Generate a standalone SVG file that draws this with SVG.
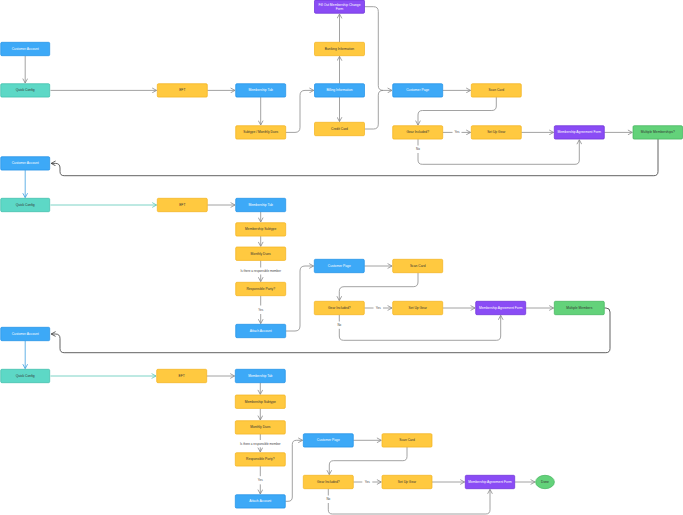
<svg xmlns="http://www.w3.org/2000/svg" width="683" height="515" viewBox="0 0 683 515">
<style>
text{font-family:"Liberation Sans",Arial,sans-serif;font-size:3.3px;text-anchor:middle;dominant-baseline:central}
.b rect{fill:#3DA9F7;stroke:#1E8FE6;stroke-width:0.7}
.y rect{fill:#FFC940;stroke:#F2B21C;stroke-width:0.7}
.t rect{fill:#5DD8C6;stroke:#3BBBA9;stroke-width:0.7}
.p rect{fill:#8A4CF5;stroke:#6A2ED6;stroke-width:0.7}
.g rect,.g ellipse{fill:#63D27A;stroke:#41B25A;stroke-width:0.7}
.b text,.p text{fill:#fff}
.y text,.t text,.g text{fill:#333}
.e path{fill:none;stroke:#8a8a8a;stroke-width:0.8}
.e path.bl{stroke:#3C9FE0}
.e path.tl{stroke:#5CC8B8}
.e path.dk{stroke:#3a3a3a}
.lbl{fill:#444;font-size:3px}
</style>
<defs>
<marker id="ag" viewBox="0 0 6 6" refX="5.6" refY="3" markerWidth="6" markerHeight="6" markerUnits="userSpaceOnUse" orient="auto"><path d="M1.2,0.6 L5.6,3 L1.2,5.4" fill="none" stroke="#8a8a8a" stroke-width="0.8"/></marker>
<marker id="ab" viewBox="0 0 6 6" refX="5.6" refY="3" markerWidth="6" markerHeight="6" markerUnits="userSpaceOnUse" orient="auto"><path d="M1.2,0.6 L5.6,3 L1.2,5.4" fill="none" stroke="#3C9FE0" stroke-width="0.8"/></marker>
<marker id="at" viewBox="0 0 6 6" refX="5.6" refY="3" markerWidth="6" markerHeight="6" markerUnits="userSpaceOnUse" orient="auto"><path d="M1.2,0.6 L5.6,3 L1.2,5.4" fill="none" stroke="#5CC8B8" stroke-width="0.8"/></marker>
<marker id="ad" viewBox="0 0 6 6" refX="5.6" refY="3" markerWidth="6" markerHeight="6" markerUnits="userSpaceOnUse" orient="auto"><path d="M1.2,0.6 L5.6,3 L1.2,5.4" fill="none" stroke="#3a3a3a" stroke-width="0.8"/></marker>
</defs>
<rect width="683" height="515" fill="#fff"/>

<g id="connectors" class="e">
<!-- section 1 -->
<path d="M25.2,56 V83" marker-end="url(#ag)"/>
<path d="M50.5,90.4 H156.6" marker-end="url(#ag)"/>
<path d="M207.3,90.4 H235" marker-end="url(#ag)"/>
<path d="M260.7,97.1 V125" marker-end="url(#ag)"/>
<path d="M285.7,132.4 H295 Q300,132.4 300,127.4 V95.4 Q300,90.4 305,90.4 H313.8" marker-end="url(#ag)"/>
<path d="M339.5,83.7 V56.3" marker-end="url(#ag)"/>
<path d="M339.5,42.3 V14" marker-end="url(#ag)"/>
<path d="M339.5,97.1 V121.6" marker-end="url(#ag)"/>
<path d="M364.5,6.7 H373.5 Q378.3,6.7 378.3,11.5 V85.6 Q378.3,90.4 383,90.4 H392" marker-end="url(#ag)"/>
<path d="M364.5,129 H373.5 Q378.3,129 378.3,124.2 V95.2 Q378.3,90.4 383,90.4"/>
<path d="M442.7,90.4 H470.6" marker-end="url(#ag)"/>
<path d="M496.3,97.1 V106 Q496.3,110.5 491.8,110.5 H422.5 Q418,110.5 418,115 V125" marker-end="url(#ag)"/>
<path d="M442.7,132.4 H452.5"/>
<path d="M461.5,132.4 H470.6" marker-end="url(#ag)"/>
<path d="M521.3,132.4 H553.6" marker-end="url(#ag)"/>
<path d="M604.3,132.4 H632.3" marker-end="url(#ag)"/>
<path d="M418,139.1 V145.5"/>
<path d="M418,153 V160 Q418,164.3 422.3,164.3 H575 Q579.3,164.3 579.3,160 V139.8" marker-end="url(#ag)"/>
<path class="dk" d="M658,139.1 V171.5 Q658,175.7 653.8,175.7 H64.2 Q60,175.7 60,171.5 V168 Q60,163.4 55.5,163.4 H51.2" marker-end="url(#ad)"/>
<!-- section 2 -->
<path class="bl" d="M25.2,170.1 V197.6" marker-end="url(#ab)"/>
<path class="tl" d="M50.5,205 H156.6" marker-end="url(#at)"/>
<path d="M207.3,205 H235" marker-end="url(#ag)"/>
<path d="M260.7,211.7 V222" marker-end="url(#ag)"/>
<path d="M260.7,236.1 V246.3" marker-end="url(#ag)"/>
<path d="M260.7,260.4 V267.5"/>
<path d="M260.7,274.5 V281.6" marker-end="url(#ag)"/>
<path d="M260.7,295.7 V305.5"/>
<path d="M260.7,314 V323.6" marker-end="url(#ag)"/>
<path d="M285.7,331 H295 Q300,331 300,326 V271 Q300,266 305,266 H313.6" marker-end="url(#ag)"/>
<path d="M364.3,266 H392" marker-end="url(#ag)"/>
<path d="M418,272.7 V282 Q418,286.7 413.3,286.7 H344 Q339.3,286.7 339.3,291.4 V300.6" marker-end="url(#ag)"/>
<path d="M364.3,308 H373.5"/>
<path d="M383,308 H392" marker-end="url(#ag)"/>
<path d="M442.7,308 H475" marker-end="url(#ag)"/>
<path d="M525.7,308 H553.6" marker-end="url(#ag)"/>
<path d="M339.3,314.7 V321.5"/>
<path d="M339.3,328.8 V336 Q339.3,340.3 343.6,340.3 H496.4 Q500.7,340.3 500.7,336 V315.4" marker-end="url(#ag)"/>
<path class="dk" d="M604.3,308 H606 Q610,308 610,312 V348.5 Q610,352.7 605.8,352.7 H64.2 Q60,352.7 60,348.5 V338.5 Q60,334 55.5,334 H51.2" marker-end="url(#ad)"/>
<!-- section 3 -->
<path class="bl" d="M25.2,340.7 V368.6" marker-end="url(#ab)"/>
<path class="tl" d="M50.5,376 H156" marker-end="url(#at)"/>
<path d="M206.7,376 H234.6" marker-end="url(#ag)"/>
<path d="M260.3,382.7 V394.3" marker-end="url(#ag)"/>
<path d="M260.3,408.4 V420" marker-end="url(#ag)"/>
<path d="M260.3,434 V440"/>
<path d="M260.3,447.3 V452" marker-end="url(#ag)"/>
<path d="M260.3,466 V476.2"/>
<path d="M260.3,484.4 V494" marker-end="url(#ag)"/>
<path d="M285.3,501.3 H288 Q292.3,501.3 292.3,497 V444.5 Q292.3,440.3 296.5,440.3 H302.6" marker-end="url(#ag)"/>
<path d="M353.3,440.3 H381.3" marker-end="url(#ag)"/>
<path d="M407,447 V456.5 Q407,460.7 402.8,460.7 H333.5 Q329.3,460.7 329.3,465 V474.6" marker-end="url(#ag)"/>
<path d="M353.3,482 H362.3"/>
<path d="M372.3,482 H381.3" marker-end="url(#ag)"/>
<path d="M432,482 H464.6" marker-end="url(#ag)"/>
<path d="M514.7,482 H535" marker-end="url(#ag)"/>
<path d="M328.3,488.7 V495.5"/>
<path d="M328.3,503 V509.8 Q328.3,514 332.5,514 H485.8 Q490,514 490,509.8 V489.4" marker-end="url(#ag)"/>
</g>

<g id="edge-labels">
<text class="lbl" x="457" y="132.4">Yes</text>
<text class="lbl" x="418" y="149.3">No</text>
<text class="lbl" x="260.7" y="271">Is there a responsible member</text>
<text class="lbl" x="260.7" y="309.8">Yes</text>
<text class="lbl" x="378.3" y="308">Yes</text>
<text class="lbl" x="339.3" y="325.2">No</text>
<text class="lbl" x="260.3" y="443.7">Is there a responsible member</text>
<text class="lbl" x="260.3" y="480.3">Yes</text>
<text class="lbl" x="367.3" y="482">Yes</text>
<text class="lbl" x="328.3" y="499.3">No</text>
</g>

<!-- section 1 nodes -->
<g id="n1" class="b"><rect x="0.7" y="42.3" width="49" height="13.4" rx="1.2"/><text x="25.2" y="49">Customer Account</text></g>
<g id="n2" class="t"><rect x="0.7" y="83.7" width="49" height="13.4" rx="1.2"/><text x="25.2" y="90.4">Quick Config</text></g>
<g id="n3" class="y"><rect x="157.3" y="83.7" width="50" height="13.4" rx="1.2"/><text x="182.3" y="90.4">EFT</text></g>
<g id="n4" class="b"><rect x="235.7" y="83.7" width="50" height="13.4" rx="1.2"/><text x="260.7" y="90.4">Membership Tab</text></g>
<g id="n5" class="y"><rect x="235.7" y="125.7" width="50" height="13.4" rx="1.2"/><text x="260.7" y="132.4">Subtype / Monthly Dues</text></g>
<g id="n6" class="b"><rect x="314.5" y="83.7" width="50" height="13.4" rx="1.2"/><text x="339.5" y="90.4">Billing Information</text></g>
<g id="n7" class="y"><rect x="314.5" y="42.3" width="50" height="13.4" rx="1.2"/><text x="339.5" y="49">Banking Information</text></g>
<g id="n8" class="p"><rect x="314.5" y="0" width="50" height="13.3" rx="1.2"/><text x="339.5" y="4.6">Fill Out Membership Change</text><text x="339.5" y="9">Form</text></g>
<g id="n9" class="y"><rect x="314.5" y="122.3" width="50" height="13.4" rx="1.2"/><text x="339.5" y="129">Credit Card</text></g>
<g id="n10" class="b"><rect x="392.7" y="83.7" width="50" height="13.4" rx="1.2"/><text x="417.7" y="90.4">Customer Page</text></g>
<g id="n11" class="y"><rect x="471.3" y="83.7" width="50" height="13.4" rx="1.2"/><text x="496.3" y="90.4">Scan Card</text></g>
<g id="n12" class="y"><rect x="392.7" y="125.7" width="50" height="13.4" rx="1.2"/><text x="417.7" y="132.4">Gear Included?</text></g>
<g id="n13" class="y"><rect x="471.3" y="125.7" width="50" height="13.4" rx="1.2"/><text x="496.3" y="132.4">Set Up Gear</text></g>
<g id="n14" class="p"><rect x="554.3" y="125.7" width="50" height="13.4" rx="1.2"/><text x="579.3" y="132.4">Membership Agreement Form</text></g>
<g id="n15" class="g"><rect x="633" y="125.7" width="49.5" height="13.4" rx="1.2"/><text x="657.8" y="132.4">Multiple Memberships?</text></g>

<!-- section 2 nodes -->
<g id="n16" class="b"><rect x="0.7" y="156.7" width="49" height="13.4" rx="1.2"/><text x="25.2" y="163.4">Customer Account</text></g>
<g id="n17" class="t"><rect x="0.7" y="198.3" width="49" height="13.4" rx="1.2"/><text x="25.2" y="205">Quick Config</text></g>
<g id="n18" class="y"><rect x="157.3" y="198.3" width="50" height="13.4" rx="1.2"/><text x="182.3" y="205">EFT</text></g>
<g id="n19" class="b"><rect x="235.7" y="198.3" width="50" height="13.4" rx="1.2"/><text x="260.7" y="205">Membership Tab</text></g>
<g id="n20" class="y"><rect x="235.7" y="222.7" width="50" height="13.4" rx="1.2"/><text x="260.7" y="229.4">Membership Subtype</text></g>
<g id="n21" class="y"><rect x="235.7" y="247" width="50" height="13.4" rx="1.2"/><text x="260.7" y="253.7">Monthly Dues</text></g>
<g id="n22" class="y"><rect x="235.7" y="282.3" width="50" height="13.4" rx="1.2"/><text x="260.7" y="289">Responsible Party?</text></g>
<g id="n23" class="b"><rect x="235.7" y="324.3" width="50" height="13.4" rx="1.2"/><text x="260.7" y="331">Attach Account</text></g>
<g id="n24" class="b"><rect x="314.3" y="259.3" width="50" height="13.4" rx="1.2"/><text x="339.3" y="266">Customer Page</text></g>
<g id="n25" class="y"><rect x="392.7" y="259.3" width="50" height="13.4" rx="1.2"/><text x="417.7" y="266">Scan Card</text></g>
<g id="n26" class="y"><rect x="314.3" y="301.3" width="50" height="13.4" rx="1.2"/><text x="339.3" y="308">Gear Included?</text></g>
<g id="n27" class="y"><rect x="392.7" y="301.3" width="50" height="13.4" rx="1.2"/><text x="417.7" y="308">Set Up Gear</text></g>
<g id="n28" class="p"><rect x="475.7" y="301.3" width="50" height="13.4" rx="1.2"/><text x="500.7" y="308">Membership Agreement Form</text></g>
<g id="n29" class="g"><rect x="554.3" y="301.3" width="50" height="13.4" rx="1.2"/><text x="579.3" y="308">Multiple Members</text></g>

<!-- section 3 nodes -->
<g id="n30" class="b"><rect x="0.7" y="327.3" width="49" height="13.4" rx="1.2"/><text x="25.2" y="334">Customer Account</text></g>
<g id="n31" class="t"><rect x="0.7" y="369.3" width="49" height="13.4" rx="1.2"/><text x="25.2" y="376">Quick Config</text></g>
<g id="n32" class="y"><rect x="156.7" y="369.3" width="50" height="13.4" rx="1.2"/><text x="181.7" y="376">EFT</text></g>
<g id="n33" class="b"><rect x="235.3" y="369.3" width="50" height="13.4" rx="1.2"/><text x="260.3" y="376">Membership Tab</text></g>
<g id="n34" class="y"><rect x="235.3" y="395" width="50" height="13.4" rx="1.2"/><text x="260.3" y="401.7">Membership Subtype</text></g>
<g id="n35" class="y"><rect x="235.3" y="420.7" width="50" height="13.4" rx="1.2"/><text x="260.3" y="427.4">Monthly Dues</text></g>
<g id="n36" class="y"><rect x="235.3" y="452.7" width="50" height="13.4" rx="1.2"/><text x="260.3" y="459.4">Responsible Party?</text></g>
<g id="n37" class="b"><rect x="235.3" y="494.7" width="50" height="13.4" rx="1.2"/><text x="260.3" y="501.4">Attach Account</text></g>
<g id="n38" class="b"><rect x="303.3" y="433.7" width="50" height="13.4" rx="1.2"/><text x="328.3" y="440.4">Customer Page</text></g>
<g id="n39" class="y"><rect x="382" y="433.7" width="50" height="13.4" rx="1.2"/><text x="407" y="440.4">Scan Card</text></g>
<g id="n40" class="y"><rect x="303.3" y="475.3" width="50" height="13.4" rx="1.2"/><text x="328.3" y="482">Gear Included?</text></g>
<g id="n41" class="y"><rect x="382" y="475.3" width="50" height="13.4" rx="1.2"/><text x="407" y="482">Set Up Gear</text></g>
<g id="n42" class="p"><rect x="465.3" y="475.3" width="49.4" height="13.4" rx="1.2"/><text x="490" y="482">Membership Agreement Form</text></g>
<g id="n43" class="g"><ellipse cx="545" cy="482" rx="9.4" ry="6.7"/><text x="545" y="482">Done</text></g>
</svg>
